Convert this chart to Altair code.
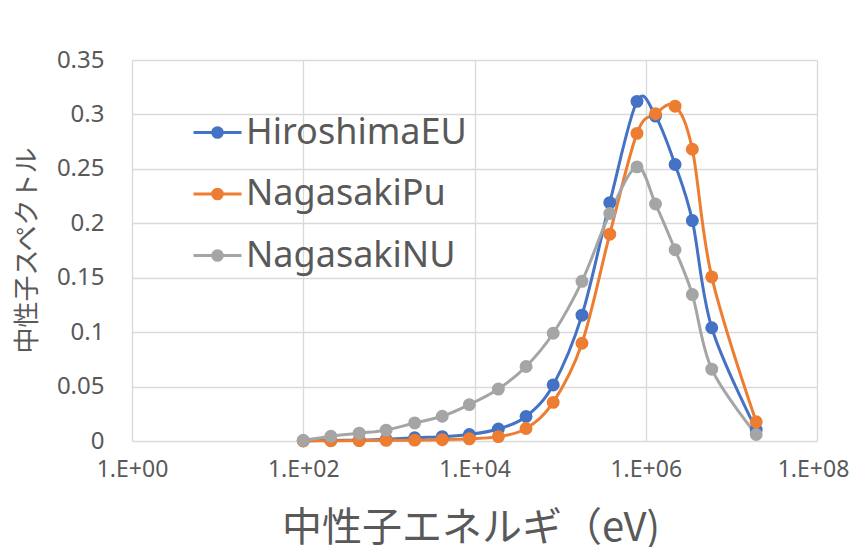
import altair as alt
import pandas as pd

energy = [1.0e2, 2.1e2, 4.5e2, 9.3e2, 2.0e3, 4.2e3, 8.7e3, 1.9e4, 4.0e4, 8.3e4,
          1.8e5, 3.8e5, 7.9e5, 1.3e6, 2.2e6, 3.5e6, 5.9e6, 1.95e7]
hiroshima_eu = [0.0003, 0.0005, 0.0008, 0.0015, 0.003, 0.004, 0.006, 0.011, 0.0225, 0.0515,
                0.1156, 0.219, 0.312, 0.2985, 0.254, 0.2025, 0.104, 0.0105]
nagasaki_pu = [0.0, 0.0002, 0.0004, 0.0006, 0.0008, 0.0012, 0.002, 0.004, 0.0115, 0.0355,
               0.0898, 0.190, 0.2826, 0.3006, 0.3076, 0.268, 0.1507, 0.0176]
nagasaki_nu = [0.0005, 0.0044, 0.0072, 0.0100, 0.0166, 0.0227, 0.0334, 0.0477, 0.0684, 0.0990,
               0.1467, 0.209, 0.2518, 0.2177, 0.1757, 0.1345, 0.066, 0.006]
series_names = ["HiroshimaEU", "NagasakiPu", "NagasakiNU"]
series_colors = ["#4472C4", "#ED7D31", "#A5A5A5"]
x_ticks = [1, 1e2, 1e4, 1e6, 1e8]
y_ticks = [0, 0.05, 0.1, 0.15, 0.2, 0.25, 0.3, 0.35]

rows = []
for name, vals in zip(series_names, [hiroshima_eu, nagasaki_pu, nagasaki_nu]):
    for i, (e, v) in enumerate(zip(energy, vals)):
        rows.append({"series": name, "energy": e, "value": v, "order": i})
df = pd.DataFrame(rows)

label_font = "Noto Sans"
cjk_font = "Noto Sans CJK JP"
txt = "#595959"

x = alt.X("energy:Q", scale=alt.Scale(type="log", domain=[1, 1e8]),
          axis=alt.Axis(values=x_ticks, title="中性子エネルギ（eV)",
                        labelExpr="'1.E+' + (round(log(datum.value)/LN10) < 10 ? '0' : '') + round(log(datum.value)/LN10)",
                        labelFont=label_font, labelFontSize=23, labelColor=txt, labelPadding=17,
                        labelFlush=False, labelOverlap=False,
                        labelOffset={"condition": {"test": "datum.value >= 1e8", "value": -4}, "value": 0},
                        ticks=False, domain=False, gridColor="#D9D9D9", gridWidth=1.3,
                        titleFont=cjk_font, titleFontSize=40, titleColor=txt, titleFontWeight="normal",
                        titleX=338.5, titleY=99, titleBaseline="alphabetic", titleAlign="center"))
y = alt.Y("value:Q", scale=alt.Scale(domain=[0, 0.35], nice=False),
          axis=alt.Axis(values=y_ticks, format="~g", title="中性子スペクトル",
                        labelFont=label_font, labelFontSize=24, labelColor=txt, labelPadding=28,
                        ticks=False, domain=False, gridColor="#D9D9D9", gridWidth=1.3,
                        titleFont=cjk_font, titleFontSize=26, titleColor=txt, titleFontWeight="normal",
                        titleX=-105, titleY=190, titleBaseline="middle", titleAngle=270, titleAlign="center"))

legend = alt.Legend(title=None, orient="none", legendX=60, legendY=47,
                    symbolType="M-1,0H1M-0.2,0A0.2,0.2 0 1,1 0.2,0A0.2,0.2 0 1,1 -0.2,0Z",
                    symbolSize=2304, symbolStrokeWidth=3, labelFont=label_font, labelFontSize=36,
                    labelColor=txt, labelOffset=3, labelLimit=400, rowPadding=17.5, padding=0,
                    symbolOpacity=1)

stroke = alt.Stroke("series:N", sort=series_names,
                    scale=alt.Scale(domain=series_names, range=series_colors), legend=legend)
fill = alt.Fill("series:N", sort=series_names,
                scale=alt.Scale(domain=series_names, range=series_colors), legend=legend)

lines = alt.Chart(df).mark_line(interpolate="cardinal", strokeWidth=3).encode(
    x=x, y=y, stroke=stroke, order="order:Q")
points = alt.Chart(df).mark_circle(size=120, opacity=1).encode(
    x=x, y=y, fill=fill, stroke=stroke)

chart = alt.layer(lines, points).properties(
    width=685, height=381,
    autosize=alt.AutoSizeParams(type="none"),
    padding={"left": 124, "top": 52, "right": 33, "bottom": 106},
).configure_view(strokeWidth=0)

chart.save("out.html", embed_options={"renderer": "svg", "actions": False})
